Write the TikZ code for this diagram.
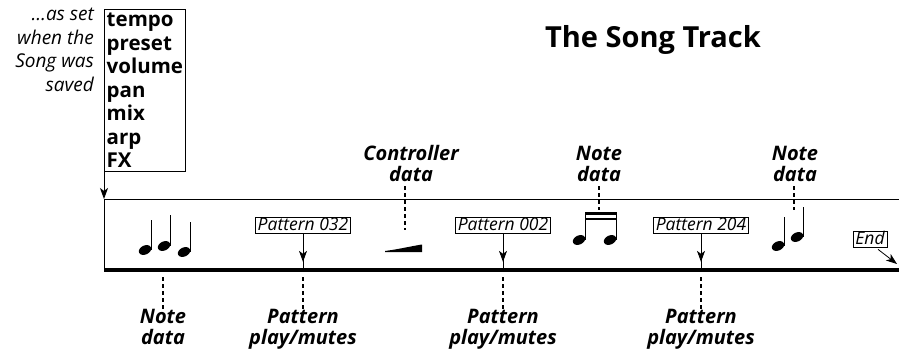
\documentclass[tikz,border=0pt]{standalone}
\usepackage{fontspec}
\setmainfont{Open Sans}
\usetikzlibrary{arrows.meta,positioning,calc}
\tikzset{
  lbl/.style={font=\fontsize{20}{21.5}\selectfont\bfseries\itshape, align=center, inner sep=0pt},
  patbox/.style={draw, line width=0.7pt, font=\fontsize{17.5}{17}\selectfont\itshape,
    inner xsep=2.5pt, inner ysep=0pt, text height=12.5pt, text depth=3.5pt},
  guide/.style={line width=1.3pt, dash pattern=on 4pt off 3pt},
  pointer/.style={-{Stealth[length=11pt,width=8pt,inset=3pt]}, line width=0.9pt},
}
% quarter note: head x, head y, stem x, stem top y
\newcommand\qnote[4]{%
  \fill[rotate around={25:(#1,#2)}] (#1,#2) ellipse (6.5pt and 4.5pt);
  \draw[line width=1.1pt] (#3,#2) -- (#3,#4);}
\begin{document}
\begin{tikzpicture}[x=1pt,y=-1pt]
\useasboundingbox (0,0) rectangle (899,353);
% settings box and note
\node[draw, line width=0.8pt, anchor=north west, align=left, minimum width=81pt, minimum height=162pt,
  inner xsep=1.5pt, inner ysep=2pt, font=\fontsize{20.5}{23.5}\selectfont\bfseries] (settings) at (104,9)
  {tempo\\preset\\volume\\pan\\mix\\arp\\FX};
\node[anchor=north east, align=right, inner sep=0pt, font=\fontsize{19}{23.5}\selectfont\itshape]
  (saved) at (94,8) {\dots as set\\when the\\Song was\\saved};
\node[font=\fontsize{29}{30}\selectfont\bfseries, anchor=base] (title) at (653,48) {The Song Track};
% the track
\coordinate (trackTL) at (104,199);
\coordinate (trackBL) at (104,270);
\coordinate (trackTR) at (899,199);
\coordinate (trackBR) at (899,270);
\draw[line width=0.9pt] (trackTR) -- (trackTL) -- (trackBL);
\draw[line width=3.5pt] (trackBL) -- (trackBR);
\draw[pointer] (settings.south west) -- (trackTL);
% notes at the start
\qnote{145}{250}{151.7}{220}
\qnote{164}{246}{170.7}{215}
\qnote{184}{252}{190.7}{222}
% controller ramp
\fill (385,251) .. controls (400,249) and (412,246) .. (422,244.5) -- (422,252) -- (385,252) -- cycle;
% beamed notes
\qnote{579}{240}{585.7}{213}
\qnote{610}{240}{616.7}{213}
\fill (585,212) rectangle (617.3,214.5);
\fill (585,217.5) rectangle (617.3,220);
% two quarter notes
\qnote{778}{246}{784.7}{217}
\qnote{797}{237}{803.7}{207}
% patterns
\foreach \px/\pname in {303/032, 503/002, 701/204}{
  \node[patbox] (p\pname) at (\px,225.5) {Pattern \pname};
  \coordinate (b\pname) at (\px,270);
  \draw[line width=0.9pt] (p\pname.south) -- (b\pname);
  \draw[pointer] (p\pname.south) -- ++(0,28);
  \coordinate (d\pname) at (\px,277);
  \node[lbl, anchor=north] (l\pname) at (\px,309) {Pattern\\play/mutes};
  \draw[guide] (d\pname) -- (l\pname.north);
}
% note data below
\coordinate (dnote) at (163,277);
\node[lbl, anchor=north] (lnote) at (163,309) {Note\\data};
\draw[guide] (dnote) -- (lnote.north);
% labels above
\node[lbl, anchor=south] (lctrl) at (411,182) {Controller\\data};
\coordinate (dctrl) at (405,230);
\draw[guide] (lctrl.south -| dctrl) ++(0,4) -- (dctrl);
\node[lbl, anchor=south] (lbeam) at (599,182) {Note\\data};
\coordinate (dbeam) at (599,210);
\draw[guide] (lbeam.south) ++(0,4) -- (dbeam);
\node[lbl, anchor=south] (lpair) at (795,182) {Note\\data};
\coordinate (dpair) at (794,210);
\draw[guide] (lpair.south -| dpair) ++(0,4) -- (dpair);
% end marker
\node[patbox] (endbox) at (870,239.5) {End};
\coordinate (endtip) at (897,264);
\draw[pointer, line width=0.8pt] ($(endbox.south)+(8,1.5)$) -- (endtip);
\end{tikzpicture}
\end{document}
